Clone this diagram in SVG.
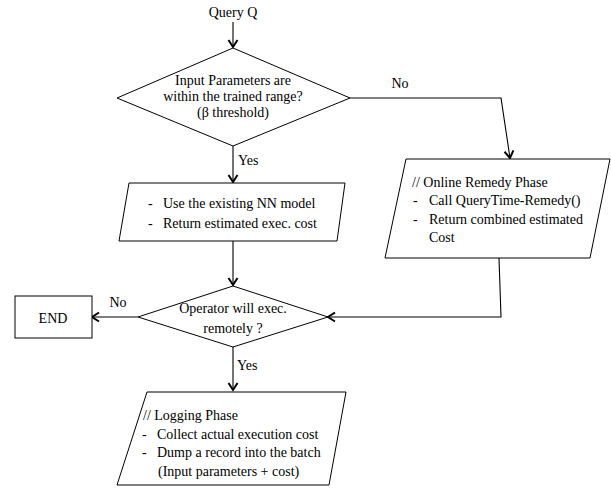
<svg xmlns="http://www.w3.org/2000/svg" width="611" height="488" viewBox="0 0 611 488">
<style>
text{font-family:"Liberation Serif","Times New Roman",serif;font-size:14px;fill:#000}
.c{text-anchor:middle}
.s{fill:#fff;stroke:#000;stroke-width:1}
.l{fill:none;stroke:#000;stroke-width:1.1}
</style>
<defs>
<marker id="a" markerUnits="userSpaceOnUse" markerWidth="12" markerHeight="12" refX="8" refY="5" orient="auto" viewBox="0 0 12 12" overflow="visible">
<path d="M1,0.5 L8,5 L1,9.5" fill="none" stroke="#000" stroke-width="2"/>
</marker>
</defs>
<rect width="611" height="488" fill="#fff"/>
<g id="connectors">
<path class="l" d="M233,22 V47" marker-end="url(#a)"/>
<path class="l" d="M233,146 V182" marker-end="url(#a)"/>
<path class="l" d="M233,241 V285" marker-end="url(#a)"/>
<path class="l" d="M138,317 H92" marker-end="url(#a)"/>
<path class="l" d="M233,347 V390" marker-end="url(#a)"/>
<path class="l" d="M350,98 H501 L510,158" marker-end="url(#a)"/>
<path class="l" d="M499,258 L501,317 H328" marker-end="url(#a)"/>
<text x="400" y="88" class="c">No</text>
<text x="238" y="165">Yes</text>
<text x="118" y="307" class="c">No</text>
<text x="237" y="370">Yes</text>
</g>
<g id="start">
<text x="233" y="17" class="c">Query Q</text>
</g>
<g id="decision1">
<polygon class="s" points="233,48 350,98 233,146 117,98"/>
<text x="233" y="85" class="c">Input Parameters are</text>
<text x="233" y="101" class="c">within the trained range?</text>
<text x="233" y="117" class="c">(β threshold)</text>
</g>
<g id="nnModel">
<polygon class="s" points="129,183 345,183 337,241 119,241"/>
<text x="148" y="208">-</text><text x="163" y="208">Use the existing NN model</text>
<text x="148" y="228">-</text><text x="163" y="228">Return estimated exec. cost</text>
</g>
<g id="remedy">
<polygon class="s" points="406,159 610,159 590,258 385,258"/>
<text x="412" y="187">// Online Remedy Phase</text>
<text x="413" y="205">-</text><text x="429" y="205">Call QueryTime-Remedy()</text>
<text x="413" y="224">-</text><text x="429" y="224">Return combined estimated</text>
<text x="429" y="242">Cost</text>
</g>
<g id="decision2">
<polygon class="s" points="233,286 328,317 233,347 138,317"/>
<text x="233" y="313" class="c">Operator will exec.</text>
<text x="233" y="333" class="c">remotely ?</text>
</g>
<g id="end">
<rect class="s" x="15" y="296" width="77" height="42"/>
<text x="53" y="323" class="c">END</text>
</g>
<g id="logging">
<polygon class="s" points="147,392 346,392 329,485 117,485"/>
<text x="143" y="420">// Logging Phase</text>
<text x="142" y="438.5">-</text><text x="157" y="438.5">Collect actual execution cost</text>
<text x="142" y="457">-</text><text x="157" y="457">Dump a record into the batch</text>
<text x="158" y="476">(Input parameters + cost)</text>
</g>
</svg>
